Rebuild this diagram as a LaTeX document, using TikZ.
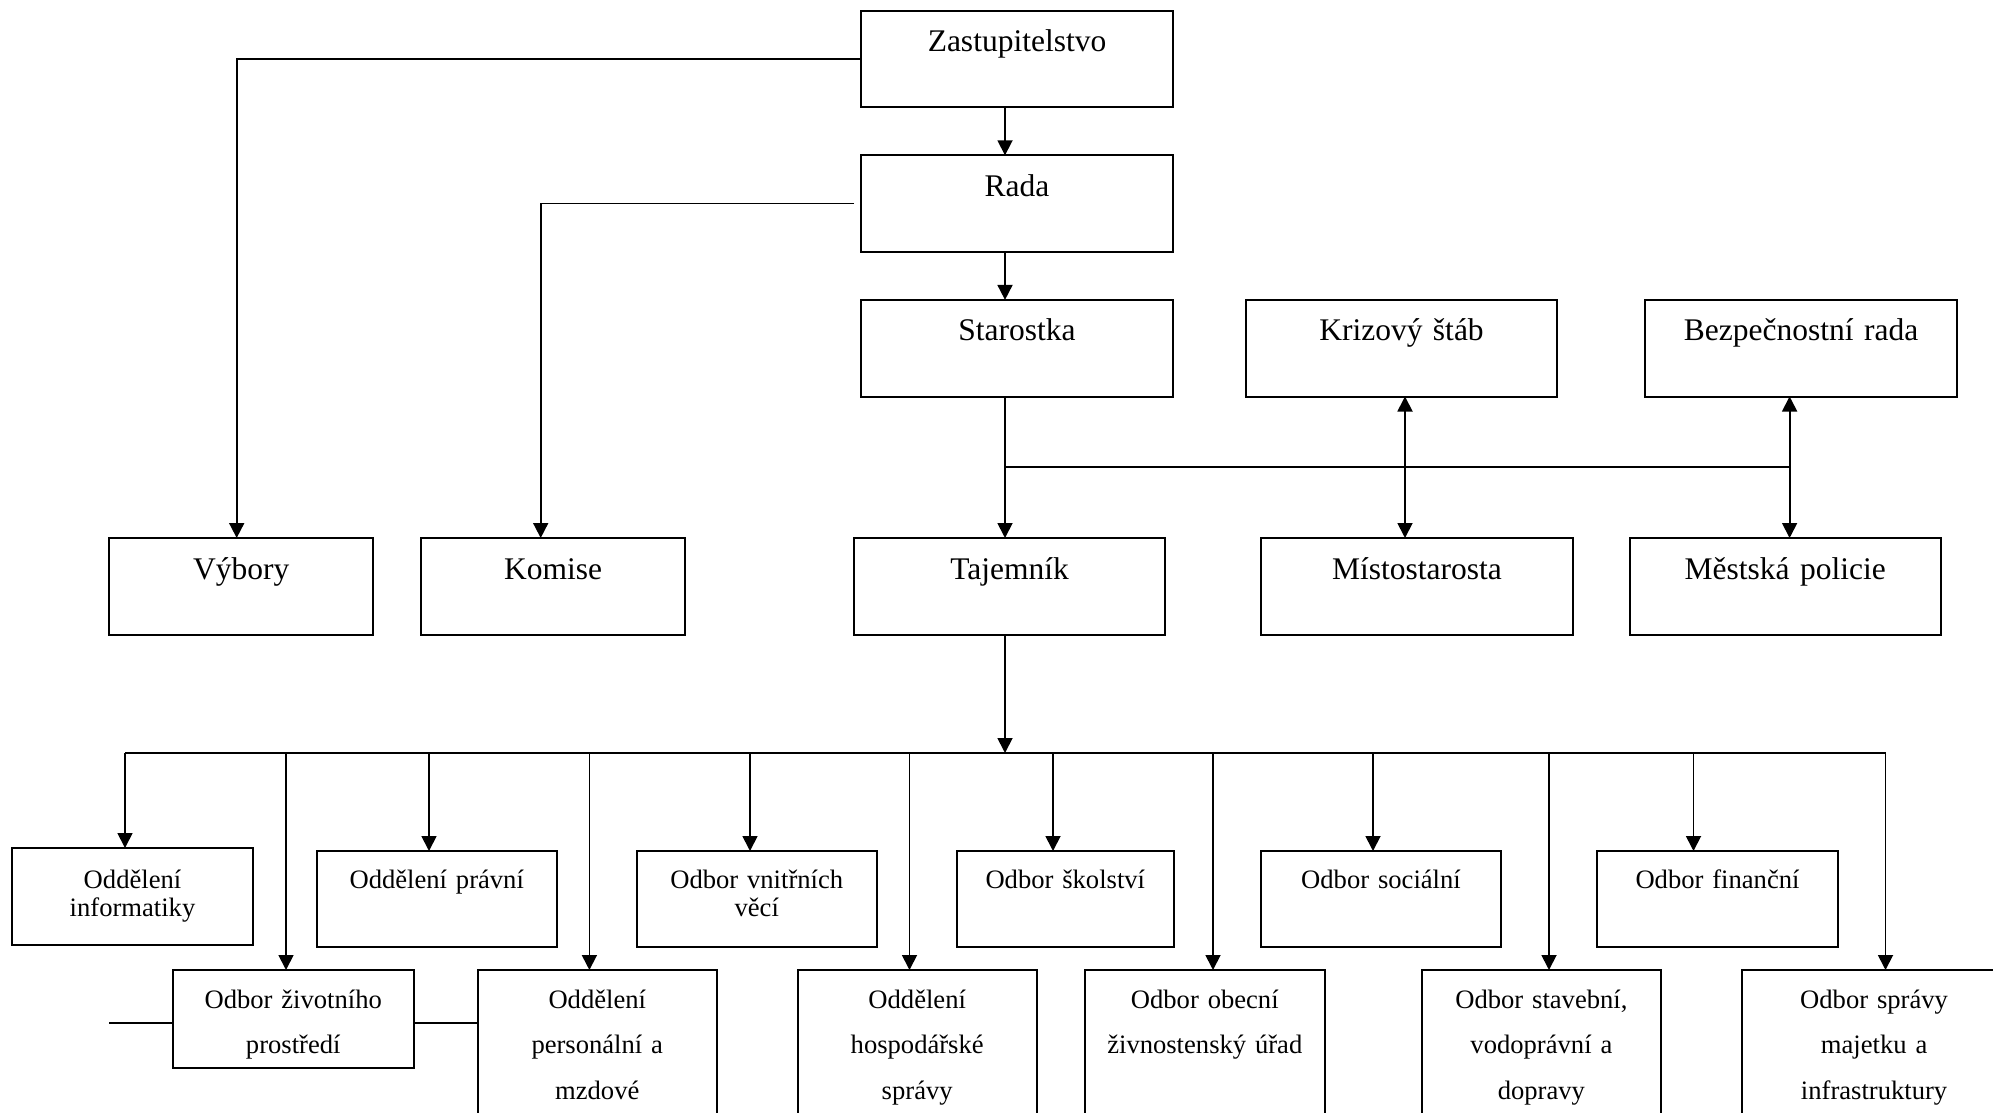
\documentclass[tikz,border=0pt]{standalone}
\usepackage{fontspec}
\setmainfont{Liberation Serif}
\usetikzlibrary{arrows.meta,positioning}

\begin{document}
\begin{tikzpicture}[
  x=0.5pt, y=-0.5pt,
  node distance=24pt,
  box/.style={draw, line width=1pt, inner sep=0pt, outer sep=0pt, anchor=north west, align=center},
  upper/.style={box, font=\fontsize{15.75}{18}\selectfont, text height=20.5pt, text depth=27.8pt},
  dept/.style={box, font=\fontsize{13.3}{14.2}\selectfont, text height=18.65pt, text depth=29.5pt},
  unit/.style={box, font=\fontsize{13.3}{22.75}\selectfont, text height=19.15pt, text depth=60pt},
  link/.style={line width=0.9pt},
  arr/.style={link, -{Triangle[length=7.5pt, width=7.5pt]}},
  arr2/.style={link, {Triangle[length=7.5pt, width=7.5pt]}-{Triangle[length=7.5pt, width=7.5pt]}},
]
\useasboundingbox (0,0) rectangle (1993,1113);
\clip (0,0) rectangle (1993,1113);

% ---------- vedeni ----------
\node[upper, text width=156pt] at (861,10.7) (zast) {Zastupitelstvo};
\node[upper, text width=156pt, below=of zast] (rada) {Rada};
\node[upper, text width=156pt, below=of rada] (staro) {Starostka};
\node[upper, text width=155.5pt, right=36.5pt of staro] (krize) {Krizový štáb};
\node[upper, text width=156pt, right=44pt of krize] (bezp) {Bezpečnostní rada};

% ---------- druha rada ----------
\node[upper, text width=132pt] at (109.3,538) (vybory) {Výbory};
\node[upper, text width=132pt] at (421,538) (komise) {Komise};
\node[upper, text width=155.5pt] at (854,538) (taj) {Tajemník};
\node[upper, text width=156pt] at (1261,538) (misto) {Místostarosta};
\node[upper, text width=155.75pt] at (1629.5,538) (policie) {Městská policie};

% ---------- odbory, horni rada ----------
\node[dept, text width=120.5pt, text height=20.15pt, text depth=28.15pt] at (12,848) (inf) {Oddělení\\informatiky};
\node[dept, text width=120.25pt] at (316.5,851) (prav) {Oddělení právní};
\node[dept, text width=120.25pt] at (636.5,851) (vnitr) {Odbor vnitřních\\věcí};
\node[dept, text width=108.3pt] at (957,851) (skol) {Odbor školství};
\node[dept, text width=120pt] at (1261,851) (soc) {Odbor sociální};
\node[dept, text width=120.5pt] at (1597,851) (fin) {Odbor finanční};

% ---------- odbory, dolni rada ----------
\node[unit, text width=120.25pt, text depth=29.7pt] at (173,970) (ziv) {Odbor životního\\prostředí};
\node[unit, text width=119.75pt] at (477.5,970) (pers) {Oddělení\\personální a\\mzdové};
\node[unit, text width=119.6pt] at (797.6,970) (hosp) {Oddělení\\hospodářské\\správy};
\node[unit, text width=119.8pt] at (1085,970) (obec) {Odbor obecní\\živnostenský úřad};
\node[unit, text width=119.6pt] at (1421.8,970) (stav) {Odbor stavební,\\vodoprávní a\\dopravy};
\node[unit, text width=132.5pt] at (1741.6,970) (sprav) {Odbor správy\\majetku a\\infrastruktury};

% ---------- spojnice ----------
\coordinate (spine) at (1005,467.3);
\coordinate (jK) at (1405,467.3);
\coordinate (jB) at (1789.6,467.3);
\coordinate (hub) at (1005,753);
\coordinate (stub) at (109,1022.7);

\draw[arr] (spine |- zast.south) -- (spine |- rada.north);
\draw[arr] (spine |- rada.south) -- (spine |- staro.north);
\draw[arr] (spine |- staro.south) -- (spine |- taj.north);
\draw[link] (spine) -- (jB);
\draw[arr2] (jK |- krize.south) -- (jK |- misto.north);
\draw[arr2] (jB |- bezp.south) -- (jB |- policie.north);
\draw[arr] (zast.west) -| ([xshift=-2.3pt]vybory.north);
\draw[arr] ([xshift=-3.5pt]rada.west) -| ([xshift=-6.15pt]komise.north);
\draw[arr] (hub |- taj.south) -- (hub);

\foreach \x/\n in {125/inf, 286/ziv, 429/prav, 589.4/pers, 750/vnitr, 909.5/hosp,
                   1053/skol, 1213/obec, 1373/soc, 1549/stav, 1693.5/fin, 1885.5/sprav} {
  \coordinate (b-\n) at (\x,753);
  \draw[arr] (b-\n) -- (b-\n |- \n.north);
}
\draw[link] (b-inf) -- (b-sprav);

\draw[link] (stub) -- (stub -| ziv.west);
\draw[link] (ziv.east |- stub) -- (stub -| pers.west);

\end{tikzpicture}
\end{document}
